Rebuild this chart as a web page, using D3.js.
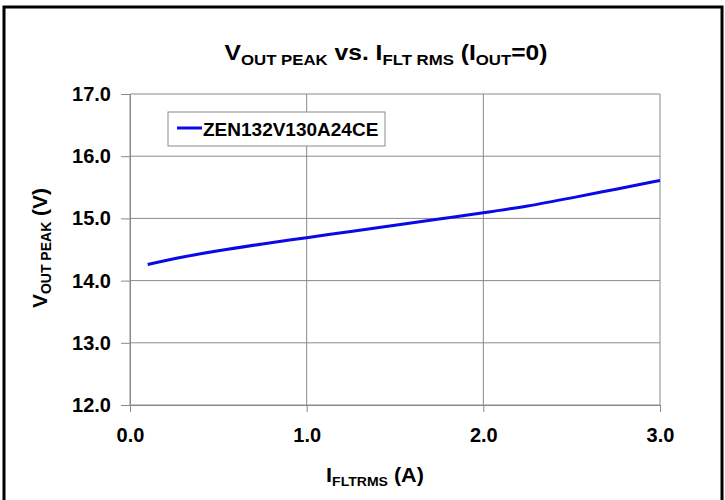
<!DOCTYPE html>
<html lang="en">
<head>
<meta charset="UTF-8">
<title>VOUT PEAK vs. IFLT RMS</title>
<script src="https://d3js.org/d3.v7.min.js"></script>
<style>
  body { margin: 0; background: #fff; }
  svg { display: block; font-family: "Liberation Sans", Arial, sans-serif; font-weight: bold; }
</style>
</head>
<body>
<svg width="725" height="500"></svg>
<script>
// data
var seriesName = 'ZEN132V130A24CE';
var iflt = [0.1, 0.3, 0.5, 0.75, 1.0, 1.25, 1.5, 1.75, 2.0, 2.25, 2.5, 2.75, 3.0];
var vout = [14.26, 14.38, 14.48, 14.59, 14.69, 14.79, 14.89, 14.99, 15.09, 15.20, 15.33, 15.47, 15.61];
var xTicks = [0, 1, 2, 3];
var yTicks = [12, 13, 14, 15, 16, 17];

var svg = d3.select('svg');
var margin = { left: 130, right: 65, top: 94, bottom: 95 };
var innerWidth = 725 - margin.left - margin.right;
var innerHeight = 500 - margin.top - margin.bottom;

// outer frame
svg.append('rect')
    .attr('x', 4).attr('y', 7)
    .attr('width', 718).attr('height', 500)
    .attr('fill', 'none').attr('stroke', '#000').attr('stroke-width', 3);

var g = svg.append('g')
    .attr('transform', `translate(${margin.left},${margin.top})`);

var xScale = d3.scaleLinear().domain([0, 3]).range([0, innerWidth]);
var yScale = d3.scaleLinear().domain([12, 17]).range([innerHeight, 0]);

// grid
g.append('g').selectAll('line').data(xTicks).enter().append('line')
    .attr('x1', d => xScale(d)).attr('x2', d => xScale(d))
    .attr('y1', 0).attr('y2', innerHeight)
    .attr('stroke', '#8a8a8a').attr('stroke-width', 1);
g.append('g').selectAll('line').data(yTicks).enter().append('line')
    .attr('x1', 0).attr('x2', innerWidth)
    .attr('y1', d => yScale(d)).attr('y2', d => yScale(d))
    .attr('stroke', '#8a8a8a').attr('stroke-width', 1);

var xAxis = d3.axisBottom(xScale)
    .tickValues(xTicks)
    .tickFormat(d3.format('.1f'))
    .tickSizeInner(7).tickSizeOuter(0)
    .tickPadding(16);
var yAxis = d3.axisLeft(yScale)
    .tickValues(yTicks)
    .tickFormat(d3.format('.1f'))
    .tickSizeInner(9).tickSizeOuter(0)
    .tickPadding(10);

var xAxisG = g.append('g').attr('transform', `translate(0,${innerHeight})`).call(xAxis);
var yAxisG = g.append('g').call(yAxis);
[xAxisG, yAxisG].forEach(a => {
    a.select('.domain').attr('stroke', '#8a8a8a');
    a.selectAll('.tick line').attr('stroke', '#8a8a8a');
    a.selectAll('.tick text')
        .attr('fill', '#000')
        .style('font-size', '20px')
        .style('font-weight', 'bold')
        .style('font-family', '"Liberation Sans", Arial, sans-serif');
});

// series line
var line = d3.line()
    .x((d, i) => xScale(iflt[i]))
    .y(d => yScale(d))
    .curve(d3.curveMonotoneX);
g.append('path')
    .datum(vout)
    .attr('d', line)
    .attr('fill', 'none')
    .attr('stroke', '#0a0ae6')
    .attr('stroke-width', 3);

// legend
var lg = g.append('g').attr('transform', `translate(${168 - margin.left},${112 - margin.top})`);
lg.append('rect')
    .attr('width', 217).attr('height', 34)
    .attr('fill', '#fff').attr('stroke', '#8a8a8a');
lg.append('line')
    .attr('x1', 9).attr('x2', 34).attr('y1', 16).attr('y2', 16)
    .attr('stroke', '#0a0ae6').attr('stroke-width', 3);
lg.append('text')
    .attr('x', 35).attr('y', 24)
    .style('font-size', '19px')
    .text(seriesName);

// title
var title = svg.append('text')
    .attr('transform', 'translate(386,60) scale(1.12,1)')
    .attr('text-anchor', 'middle')
    .style('font-size', '22px');
title.append('tspan').text('V');
title.append('tspan').attr('dy', 5).style('font-size', '15px').text('OUT PEAK');
title.append('tspan').attr('dy', -5).text(' vs. I');
title.append('tspan').attr('dy', 5).style('font-size', '15px').text('FLT RMS');
title.append('tspan').attr('dy', -5).text(' (I');
title.append('tspan').attr('dy', 5).style('font-size', '15px').text('OUT');
title.append('tspan').attr('dy', -5).text('=0)');

// x axis label
var xl = svg.append('text')
    .attr('transform', 'translate(375,482) scale(1.08,1)')
    .attr('text-anchor', 'middle')
    .style('font-size', '20px');
xl.append('tspan').text('I');
xl.append('tspan').attr('dy', 4).style('font-size', '13px').text('FLTRMS');
xl.append('tspan').attr('dy', -4).text(' (A)');

// y axis label
var yl = svg.append('text')
    .attr('transform', 'translate(47,248) rotate(-90)')
    .attr('text-anchor', 'middle')
    .style('font-size', '21px');
yl.append('tspan').text('V');
yl.append('tspan').attr('dy', 4).style('font-size', '14px').text('OUT PEAK');
yl.append('tspan').attr('dy', -4).text(' (V)');
</script>
</body>
</html>
